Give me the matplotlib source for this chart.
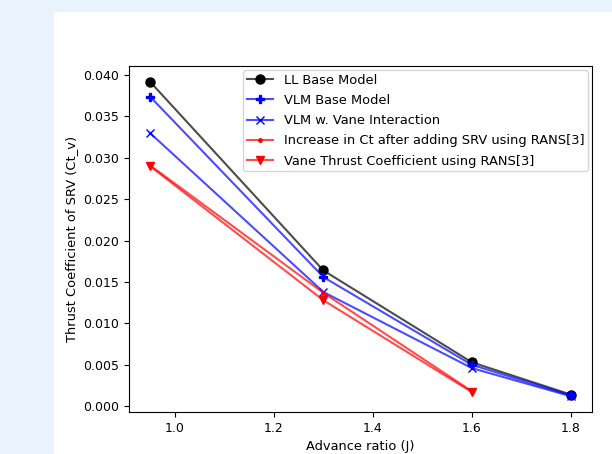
import matplotlib
matplotlib.use('Agg')
import matplotlib.pyplot as plt
from matplotlib.patches import Rectangle

# advance ratio values
J = [0.95, 1.3, 1.6, 1.8]
J_rans = [0.95, 1.3, 1.6]

# thrust coefficient of SRV for each model
ll_base = [0.0392, 0.0164, 0.0053, 0.0014]
vlm_base = [0.0374, 0.0156, 0.0050, 0.0013]
vlm_vane = [0.0330, 0.0138, 0.0046, 0.0012]
rans_increase = [0.0291, 0.0137, 0.0018]
rans_vane = [0.0290, 0.0128, 0.0017]

labels = ['LL Base Model', 'VLM Base Model', 'VLM w. Vane Interaction',
          'Increase in Ct after adding SRV using RANS[3]',
          'Vane Thrust Coefficient using RANS[3]']

plt.rcParams['font.size'] = 9.4
plt.rcParams['xtick.labelsize'] = 9
plt.rcParams['ytick.labelsize'] = 9

fig = plt.figure(figsize=(6.12, 4.54), dpi=100)
fig.patch.set_facecolor('#e8f3fe')
# white panel of the screenshot
fig.patches.append(Rectangle((54 / 612, 0), 1, 1 - 12 / 454, transform=fig.transFigure,
                             facecolor='white', edgecolor='none', zorder=-1))

ax = fig.add_axes([129 / 612, 1 - 412 / 454, (592 - 129) / 612, (412 - 66) / 454])

ax.plot(J, ll_base, color=(0, 0, 0, 0.7), marker='o', mfc='k', mec='k', ms=6.5, label=labels[0])
ax.plot(J, vlm_base, color=(0, 0, 1, 0.7), marker='P', mfc='b', mec='b', ms=5.5, label=labels[1])
ax.plot(J, vlm_vane, color=(0, 0, 1, 0.7), marker='x', mfc='b', mec='b', ms=6, label=labels[2])
ax.plot(J_rans, rans_increase, color=(1, 0, 0, 0.7), marker='.', mfc='r', mec='r', ms=5, label=labels[3])
ax.plot(J_rans, rans_vane, color=(1, 0, 0, 0.7), marker='v', mfc='r', mec='r', ms=6, label=labels[4])

ax.set_xlabel('Advance ratio (J)')
ax.set_ylabel('Thrust Coefficient of SRV (Ct_v)')
ax.legend(loc='upper right', labelspacing=0.55, borderaxespad=0.3, borderpad=0.3)

plt.savefig('out.png', dpi=100, facecolor=fig.get_facecolor())
